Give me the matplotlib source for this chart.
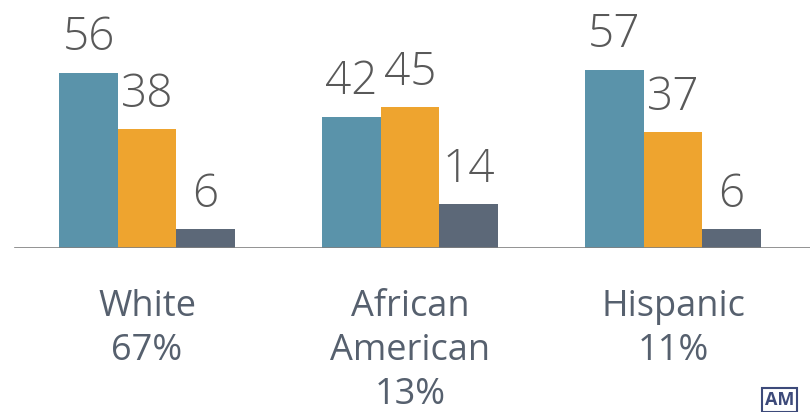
import numpy as np
import matplotlib
matplotlib.use('Agg')
import matplotlib.pyplot as plt

# dados
grupos = ['White\n67%', 'African\nAmerican\n13%', 'Hispanic\n11%']
serie1 = [56, 42, 57]
serie2 = [38, 45, 37]
serie3 = [6, 14, 6]
cores = ['#5a93aa', '#eea42f', '#5c6878']

plt.rcParams['font.family'] = ['Open Sans', 'DejaVu Sans']

fig = plt.figure(figsize=(8.1, 4.12), dpi=100)
ax = fig.add_axes([0, 164 / 412, 1, 248 / 412])

x = np.arange(len(grupos))
largura = 58.5 / 263

for k, (serie, cor) in enumerate(zip([serie1, serie2, serie3], cores)):
    pos = x + (k - 1) * largura
    ax.bar(pos, serie, width=largura, color=cor, zorder=2)
    for p, v in zip(pos, serie):
        ax.text(p, v + 3.6, str(v), ha='center', va='bottom',
                fontsize=33, fontweight='light', color='#595959')

ax.set_xlim(-147 / 263, (810 - 147) / 263)
ax.set_ylim(0, 248 / 3.13)
ax.axhline(0, xmin=15 / 810, xmax=1, color='#808080', lw=1.2, zorder=3)

# rotulos das categorias
for xi, g in zip(x, grupos):
    ax.text(xi, -13.0, g, ha='center', va='top', fontsize=26,
            color='#56606e', linespacing=1.3, clip_on=False)

ax.axis('off')

# logo no canto
fig.text(765 / 810, 3 / 412, 'AM', fontsize=13, fontweight='bold',
         color='#3d4a7a', ha='left', va='bottom',
         bbox=dict(boxstyle='square,pad=0.15', fc='white', ec='#3d4a7a', lw=1.5))

fig.savefig('out.png', dpi=100)
